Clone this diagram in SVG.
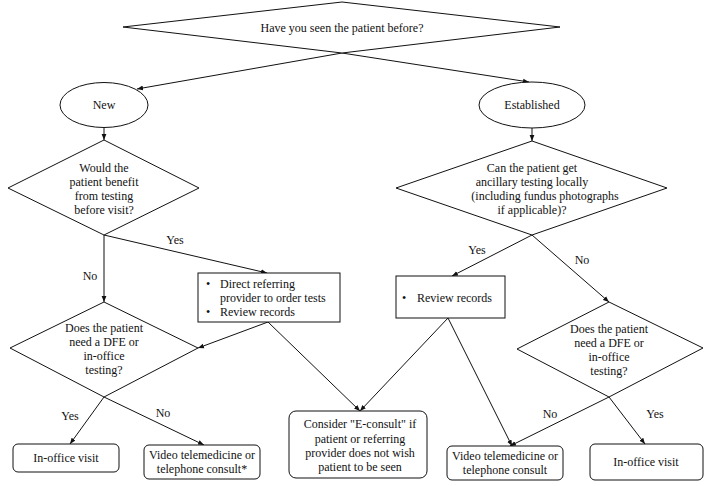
<svg xmlns="http://www.w3.org/2000/svg" width="716" height="486" viewBox="0 0 716 486">
<defs>
<marker id="ah" viewBox="0 0 10 10" refX="10" refY="5" markerWidth="6" markerHeight="6" orient="auto" markerUnits="userSpaceOnUse">
<path d="M0,1 L10,5 L0,9 z" fill="#111"/>
</marker>
<style>
.s{fill:#fff;stroke:#111;stroke-width:1}
.t{font-family:"Liberation Serif","Times New Roman",serif;font-size:12px;fill:#111;text-anchor:middle}
.l{font-family:"Liberation Serif","Times New Roman",serif;font-size:12px;fill:#111}
.c{fill:none;stroke:#111;stroke-width:1;marker-end:url(#ah)}
</style>
</defs>
<rect width="716" height="486" fill="#fff"/>
<g id="connectors">
<line class="c" x1="342" y1="53" x2="137" y2="89"/>
<line class="c" x1="342" y1="53" x2="529" y2="82"/>
<line class="c" x1="104" y1="128" x2="104" y2="140"/>
<line class="c" x1="532" y1="128" x2="532" y2="141"/>
<line class="c" x1="104" y1="235" x2="267" y2="273"/>
<line class="c" x1="104" y1="235" x2="104" y2="302"/>
<line class="c" x1="532" y1="235" x2="452" y2="276"/>
<line class="c" x1="532" y1="235" x2="609" y2="302"/>
<line class="c" x1="268" y1="322" x2="198" y2="348"/>
<line class="c" x1="268" y1="322" x2="360" y2="411"/>
<line class="c" x1="448" y1="318" x2="360" y2="411"/>
<line class="c" x1="448" y1="318" x2="512" y2="446"/>
<line class="c" x1="104" y1="397" x2="70" y2="444"/>
<line class="c" x1="104" y1="397" x2="204" y2="445"/>
<line class="c" x1="609" y1="397" x2="510" y2="446"/>
<line class="c" x1="609" y1="397" x2="645" y2="444"/>
<text class="t" x="175" y="244">Yes</text>
<text class="t" x="90" y="280">No</text>
<text class="t" x="477" y="254">Yes</text>
<text class="t" x="582" y="264">No</text>
<text class="t" x="70" y="420">Yes</text>
<text class="t" x="163" y="417">No</text>
<text class="t" x="550" y="418">No</text>
<text class="t" x="655" y="418">Yes</text>
</g>
<g id="q-seen">
<polygon class="s" points="342,2 560,27 342,53 123,27"/>
<text class="t" x="342" y="32">Have you seen the patient before?</text>
</g>
<g id="new">
<ellipse class="s" cx="104" cy="105" rx="44" ry="22.5"/>
<text class="t" x="104" y="109">New</text>
</g>
<g id="established">
<ellipse class="s" cx="532" cy="105" rx="53" ry="23"/>
<text class="t" x="532" y="109">Established</text>
</g>
<g id="q-benefit">
<polygon class="s" points="104,140 199,188 104,235 8,188"/>
<text class="t" x="104" y="172">Would the</text>
<text class="t" x="104" y="186">patient benefit</text>
<text class="t" x="104" y="200">from testing</text>
<text class="t" x="104" y="214">before visit?</text>
</g>
<g id="q-ancillary">
<polygon class="s" points="532,141 667,188 532,235 396,188"/>
<text class="t" x="532" y="172">Can the patient get</text>
<text class="t" x="532" y="186">ancillary testing locally</text>
<text class="t" x="545" y="200">(including fundus photographs</text>
<text class="t" x="532" y="214">if applicable)?</text>
</g>
<g id="box-direct">
<rect class="s" x="198" y="273" width="142" height="49"/>
<text class="l" x="206" y="288">•</text>
<text class="l" x="220" y="288">Direct referring</text>
<text class="l" x="220" y="302">provider to order tests</text>
<text class="l" x="206" y="316">•</text>
<text class="l" x="220" y="316">Review records</text>
</g>
<g id="box-review">
<rect class="s" x="396" y="276" width="109" height="42"/>
<text class="l" x="402" y="302">•</text>
<text class="l" x="417" y="302">Review records</text>
</g>
<g id="q-dfe-left">
<polygon class="s" points="104,302 198,348 104,397 10,348"/>
<text class="t" x="104" y="332">Does the patient</text>
<text class="t" x="104" y="346">need a DFE or</text>
<text class="t" x="104" y="360">in-office</text>
<text class="t" x="104" y="374">testing?</text>
</g>
<g id="q-dfe-right">
<polygon class="s" points="609,302 703,348 609,397 517,349"/>
<text class="t" x="609" y="333">Does the patient</text>
<text class="t" x="609" y="347">need a DFE or</text>
<text class="t" x="609" y="361">in-office</text>
<text class="t" x="609" y="375">testing?</text>
</g>
<g id="inoffice-left">
<rect class="s" x="13" y="444" width="106" height="28" rx="5"/>
<text class="t" x="66" y="462">In-office visit</text>
</g>
<g id="video-left">
<rect class="s" x="144" y="445" width="116" height="34" rx="5"/>
<text class="t" x="202" y="459">Video telemedicine or</text>
<text class="t" x="202" y="473">telephone consult*</text>
</g>
<g id="econsult">
<rect class="s" x="289" y="411" width="138" height="67" rx="7"/>
<text class="t" x="360" y="428">Consider "E-consult" if</text>
<text class="t" x="360" y="443">patient or referring</text>
<text class="t" x="360" y="457">provider does not wish</text>
<text class="t" x="360" y="471">patient to be seen</text>
</g>
<g id="video-right">
<rect class="s" x="447" y="446" width="116" height="34" rx="5"/>
<text class="t" x="505" y="460">Video telemedicine or</text>
<text class="t" x="505" y="474">telephone consult</text>
</g>
<g id="inoffice-right">
<rect class="s" x="590" y="444" width="113" height="36" rx="5"/>
<text class="t" x="646" y="466">In-office visit</text>
</g>
</svg>
